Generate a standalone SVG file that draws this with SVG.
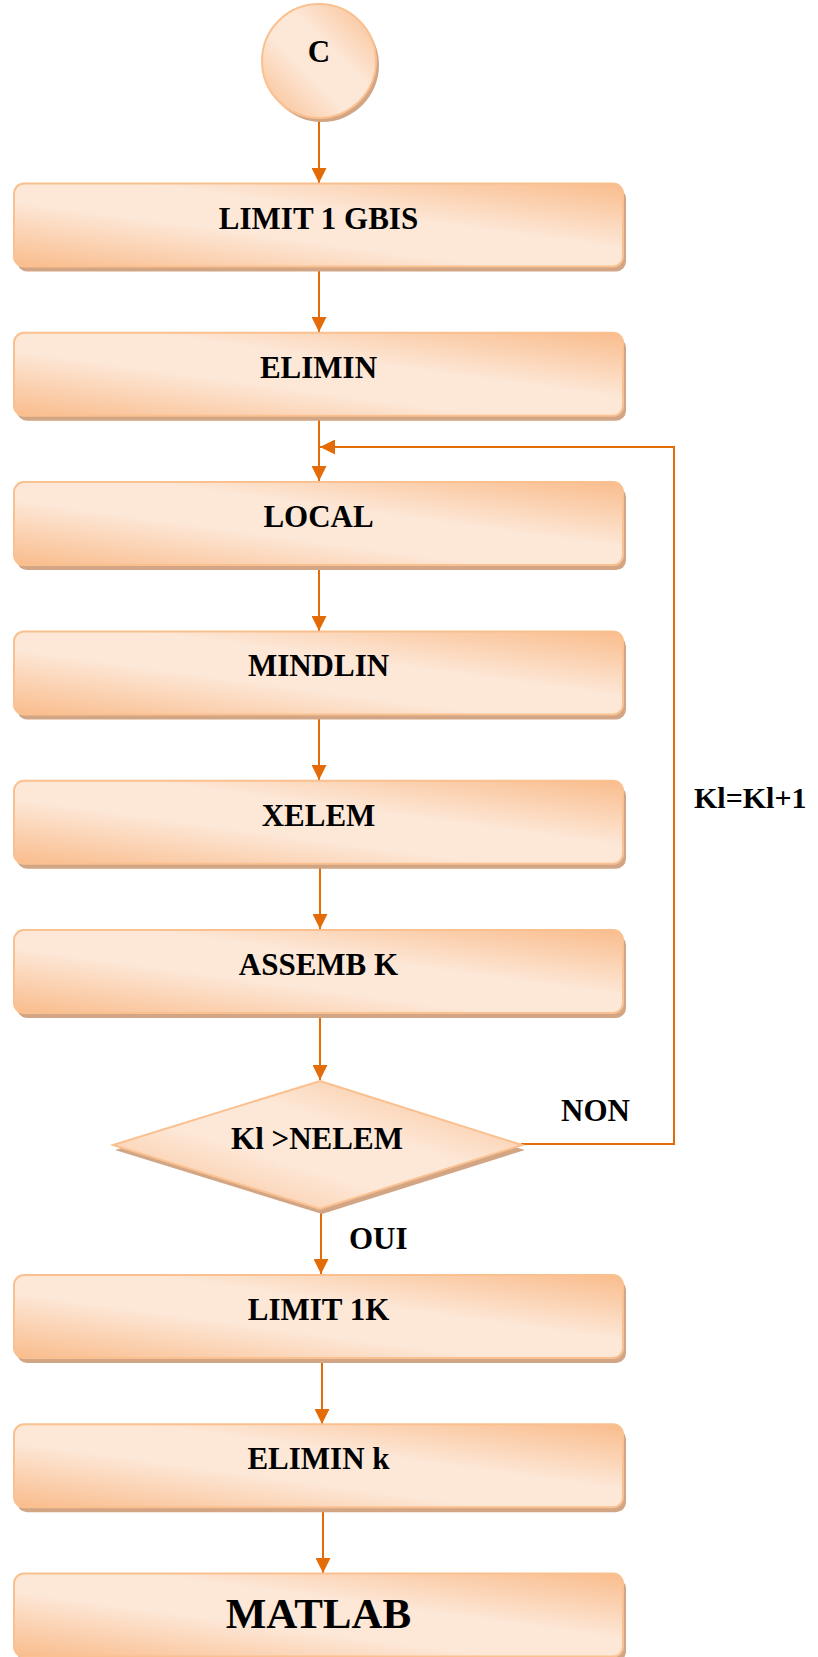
<svg xmlns="http://www.w3.org/2000/svg" width="818" height="1657" viewBox="0 0 818 1657">
<defs>
<linearGradient id="g" x1="0" y1="1" x2="1" y2="0">
<stop offset="0" stop-color="#F9BC8C"/>
<stop offset="0.4" stop-color="#FDE8D8"/>
<stop offset="0.6" stop-color="#FDE8D8"/>
<stop offset="1" stop-color="#F9BC8C"/>
</linearGradient>
<marker id="ah" markerUnits="userSpaceOnUse" markerWidth="15" markerHeight="15" viewBox="0 0 15 15" refX="15" refY="7.5" orient="auto">
<path d="M0,0 L15,7.5 L0,15 z" fill="#E36C09"/>
</marker>
</defs>
<style>
.box{fill:url(#g);stroke:#FAC08F;stroke-width:2}
.sh{fill:#D2A584}
.t{font-family:"Liberation Serif","Times New Roman",serif;font-weight:bold;font-size:31px;fill:#000;text-anchor:middle}
.l{font-family:"Liberation Serif","Times New Roman",serif;font-weight:bold;font-size:31px;fill:#000}
.c{fill:none;stroke:#E36C09;stroke-width:2}
</style>
<rect width="818" height="1657" fill="#fff"/>

<g id="connectors">
<path class="c" d="M319,117 V183" marker-end="url(#ah)"/>
<path class="c" d="M319,267 V332" marker-end="url(#ah)"/>
<path class="c" d="M319,416 V481" marker-end="url(#ah)"/>
<path class="c" d="M319,565 V631" marker-end="url(#ah)"/>
<path class="c" d="M319,714 V780" marker-end="url(#ah)"/>
<path class="c" d="M320,864 V929" marker-end="url(#ah)"/>
<path class="c" d="M320,1013 V1080" marker-end="url(#ah)"/>
<path class="c" d="M321,1209 V1274" marker-end="url(#ah)"/>
<path class="c" d="M322,1358 V1424" marker-end="url(#ah)"/>
<path class="c" d="M323,1507 V1573" marker-end="url(#ah)"/>
<path class="c" d="M521,1144 H674 V447 H320" marker-end="url(#ah)"/>
</g>

<g id="nodeC">
<circle class="sh" cx="322" cy="65" r="57"/>
<circle class="box" cx="319" cy="61" r="57"/>
<text class="t" x="319" y="62">C</text>
</g>

<g id="n1">
<rect class="sh" x="17" y="188.5" width="609" height="83" rx="10"/>
<rect class="box" x="14" y="183.5" width="609" height="83" rx="10"/>
<text class="t" x="318.5" y="228.5">LIMIT 1 GBIS</text>
</g>
<g id="n2">
<rect class="sh" x="17" y="337.8" width="609" height="83" rx="10"/>
<rect class="box" x="14" y="332.8" width="609" height="83" rx="10"/>
<text class="t" x="318.5" y="377.8">ELIMIN</text>
</g>
<g id="n3">
<rect class="sh" x="17" y="487.1" width="609" height="83" rx="10"/>
<rect class="box" x="14" y="482.1" width="609" height="83" rx="10"/>
<text class="t" x="318.5" y="527.1">LOCAL</text>
</g>
<g id="n4">
<rect class="sh" x="17" y="636.4" width="609" height="83" rx="10"/>
<rect class="box" x="14" y="631.4" width="609" height="83" rx="10"/>
<text class="t" x="318.5" y="676.4">MINDLIN</text>
</g>
<g id="n5">
<rect class="sh" x="17" y="785.7" width="609" height="83" rx="10"/>
<rect class="box" x="14" y="780.7" width="609" height="83" rx="10"/>
<text class="t" x="318.5" y="825.7">XELEM</text>
</g>
<g id="n6">
<rect class="sh" x="17" y="935" width="609" height="83" rx="10"/>
<rect class="box" x="14" y="930" width="609" height="83" rx="10"/>
<text class="t" x="318.5" y="975">ASSEMB K</text>
</g>
<g id="decision">
<polygon class="sh" points="322,1086 525,1150 322,1214 115,1150"/>
<polygon class="box" points="320,1081 522,1145 320,1209 113,1145"/>
<text class="t" x="317" y="1149">Kl &gt;NELEM</text>
</g>
<g id="n7">
<rect class="sh" x="17" y="1280" width="609" height="83" rx="10"/>
<rect class="box" x="14" y="1275" width="609" height="83" rx="10"/>
<text class="t" x="318.5" y="1320">LIMIT 1K</text>
</g>
<g id="n8">
<rect class="sh" x="17" y="1429.3" width="609" height="83" rx="10"/>
<rect class="box" x="14" y="1424.3" width="609" height="83" rx="10"/>
<text class="t" x="318.5" y="1469.3">ELIMIN k</text>
</g>
<g id="n9">
<rect class="sh" x="17" y="1578.6" width="609" height="83" rx="10"/>
<rect class="box" x="14" y="1573.6" width="609" height="83" rx="10"/>
<text class="t" x="318.5" y="1627.6" style="font-size:43px">MATLAB</text>
</g>

<g id="labels">
<text class="l" x="561" y="1121">NON</text>
<text class="l" x="349" y="1249">OUI</text>
<text class="l" x="694" y="808" style="font-size:30px">Kl=Kl+1</text>
</g>
</svg>
